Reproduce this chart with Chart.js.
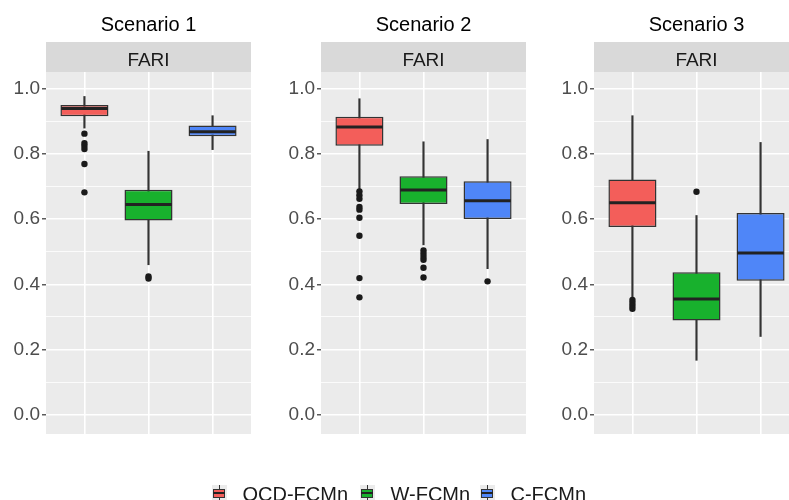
<!DOCTYPE html>
<html>
<head>
<meta charset="utf-8">
<script src="https://cdn.jsdelivr.net/npm/chart.js@4.4.1/dist/chart.umd.min.js"></script>
<style>
html,body{margin:0;padding:0;background:#fff;width:789px;height:500px;overflow:hidden;position:relative;font-family:'Liberation Sans',Arial,sans-serif;}
.panel{position:absolute;top:0;width:255px;height:500px;}
.panel canvas{display:block;}
.ltext{position:absolute;top:484px;font-size:20px;line-height:20px;color:#1a1a1a;white-space:nowrap;}
.key{position:absolute;top:485px;width:15px;height:17px;background:#ebebeb;}
.key .wh{position:absolute;left:7px;width:1.2px;top:0px;height:17px;background:#333;}
.key .bx{position:absolute;left:1.5px;top:3.5px;width:12px;height:9.5px;border:1.2px solid #333;box-sizing:border-box;}
.key .md{position:absolute;left:1.5px;width:12px;top:7.3px;height:1.8px;background:#222;}
</style>
</head>
<body>
<div class="panel" style="left:0px"><canvas id="c0" width="255" height="500"></canvas></div>
<div class="panel" style="left:275px"><canvas id="c1" width="255" height="500"></canvas></div>
<div class="panel" style="left:548px"><canvas id="c2" width="255" height="500"></canvas></div>
<div id="legend"></div>
<script>
// ---- data ----
const categories = ['QCD-FCMn', 'W-FCMn', 'C-FCMn'];
const colors = ['#F35E5A', '#18B12D', '#4F86F8'];
const scenarioTitles = ['Scenario 1', 'Scenario 2', 'Scenario 3'];
const stripLabel = 'FARI';
const yGridValues = [0, 0.1, 0.2, 0.3, 0.4, 0.5, 0.6, 0.7, 0.8, 0.9, 1.0];

// Scenario 1
const s1Low  = [0.879, 0.460, 0.813];
const s1Q1   = [0.915, 0.596, 0.854];
const s1Med  = [0.939, 0.645, 0.868];
const s1Q3   = [0.950, 0.690, 0.887];
const s1High = [0.976, 0.808, 0.917];
const s1Out  = [[0.862, 0.833, 0.825, 0.815, 0.769, 0.682], [0.424, 0.418], []];

// Scenario 2
const s2Low  = [0.692, 0.521, 0.448];
const s2Q1   = [0.825, 0.646, 0.600];
const s2Med  = [0.882, 0.689, 0.656];
const s2Q3   = [0.914, 0.731, 0.716];
const s2High = [0.969, 0.837, 0.844];
const s2Out  = [[0.685, 0.673, 0.662, 0.637, 0.629, 0.604, 0.549, 0.419, 0.360], [0.504, 0.494, 0.484, 0.475, 0.451, 0.421], [0.409]];

// Scenario 3
const s3Low  = [0.361, 0.167, 0.240];
const s3Q1   = [0.576, 0.289, 0.411];
const s3Med  = [0.650, 0.355, 0.496];
const s3Q3   = [0.721, 0.437, 0.619];
const s3High = [0.917, 0.611, 0.835];
const s3Out  = [[0.352, 0.343, 0.334, 0.325], [0.684], []];

const FONT = "'Liberation Sans', Arial, sans-serif";
const isMajor = v => Math.round(v * 10) % 2 === 0;

const decorPlugin = {
  id: 'decor',
  beforeDraw(chart, args, opts) {
    const {ctx, chartArea: a} = chart;
    const cx = (a.left + a.right) / 2;
    ctx.save();
    ctx.fillStyle = '#ebebeb';
    ctx.fillRect(a.left, a.top, a.right - a.left, a.bottom - a.top);
    ctx.fillStyle = '#d9d9d9';
    ctx.fillRect(a.left, 42, a.right - a.left, a.top - 42);
    ctx.textAlign = 'center';
    ctx.textBaseline = 'alphabetic';
    ctx.fillStyle = '#1a1a1a';
    ctx.font = '19px ' + FONT;
    ctx.fillText(stripLabel, cx, 65.5);
    ctx.fillStyle = '#000';
    ctx.font = '20px ' + FONT;
    ctx.fillText(opts.title, cx, 30.5);
    ctx.restore();
  },
  afterDatasetsDraw(chart, args, opts) {
    const {ctx} = chart;
    const yS = chart.scales.y;
    const meta = chart.getDatasetMeta(1);
    ctx.save();
    ctx.strokeStyle = '#222';
    ctx.lineWidth = 3;
    meta.data.forEach((bar, i) => {
      const p = bar.getProps(['x', 'width'], true);
      const py = yS.getPixelForValue(opts.median[i]);
      ctx.beginPath();
      ctx.moveTo(p.x - p.width / 2 + 0.75, py);
      ctx.lineTo(p.x + p.width / 2 - 0.75, py);
      ctx.stroke();
    });
    ctx.restore();
  }
};

function makePanel(idx, low, q1, med, q3, high, outliers) {
  const xs = categories.map((_, i) => i + 1);
  const outPts = [];
  outliers.forEach((arr, i) => arr.forEach(v => outPts.push({x: i + 1, y: v})));
  new Chart(document.getElementById('c' + idx), {
    type: 'bar',
    data: {
      datasets: [
        {type: 'bar', label: 'whisker', data: xs.map((x, i) => ({x: x, y: [low[i], high[i]]})),
         backgroundColor: '#333', barThickness: 1.5, grouped: false, order: 3},
        {type: 'bar', label: 'box', data: xs.map((x, i) => ({x: x, y: [q1[i], q3[i]]})),
         backgroundColor: colors, borderColor: '#333', borderWidth: 1.5, borderSkipped: false,
         grouped: false, barPercentage: 0.75, categoryPercentage: 1, order: 2},
        {type: 'scatter', label: 'outliers', data: outPts, pointRadius: 3.2,
         pointBackgroundColor: '#1a1a1a', pointBorderWidth: 0, order: 1}
      ]
    },
    options: {
      responsive: false, animation: false, devicePixelRatio: 1,
      layout: {padding: {top: 72, bottom: 66, left: 0, right: 0}},
      plugins: {legend: {display: false}, tooltip: {enabled: false},
                decor: {title: scenarioTitles[idx], median: med}},
      scales: {
        x: {type: 'linear', min: 0.4, max: 3.6, offset: false,
            afterBuildTicks: s => { s.ticks = xs.map(v => ({value: v})); },
            afterFit: s => { s.height = 0; },
            ticks: {display: false, autoSkip: false},
            grid: {color: '#ffffff', lineWidth: 1.6, drawTicks: false, offset: false},
            border: {display: false}},
        y: {type: 'linear', min: -0.059, max: 1.051,
            afterBuildTicks: s => { s.ticks = yGridValues.map(v => ({value: v})); },
            afterFit: s => { s.width = 46; },
            ticks: {autoSkip: false, padding: 2, color: '#4d4d4d',
                    font: {size: 19, family: FONT},
                    callback: v => isMajor(v) ? v.toFixed(1) : ''},
            grid: {color: '#ffffff',
                   lineWidth: c => (c.tick && !isMajor(c.tick.value)) ? 0.8 : 1.6,
                   tickColor: c => (c.tick && !isMajor(c.tick.value)) ? 'rgba(0,0,0,0)' : '#333',
                   tickLength: 4, tickWidth: 1.2},
            border: {display: false}}
      }
    },
    plugins: [decorPlugin]
  });
}

makePanel(0, s1Low, s1Q1, s1Med, s1Q3, s1High, s1Out);
makePanel(1, s2Low, s2Q1, s2Med, s2Q3, s2High, s2Out);
makePanel(2, s3Low, s3Q1, s3Med, s3Q3, s3High, s3Out);

// legend
const legendKeyLeft = [211.5, 359.5, 479.5];
const legendTextLeft = [242.5, 390.5, 510.5];
const lg = document.getElementById('legend');
categories.forEach((c, i) => {
  const k = document.createElement('div');
  k.className = 'key';
  k.style.left = legendKeyLeft[i] + 'px';
  k.innerHTML = '<div class="wh"></div><div class="bx" style="background:' + colors[i] + '"></div><div class="md"></div>';
  lg.appendChild(k);
  const t = document.createElement('div');
  t.className = 'ltext';
  t.style.left = legendTextLeft[i] + 'px';
  t.textContent = c;
  lg.appendChild(t);
});
</script>
</body>
</html>
